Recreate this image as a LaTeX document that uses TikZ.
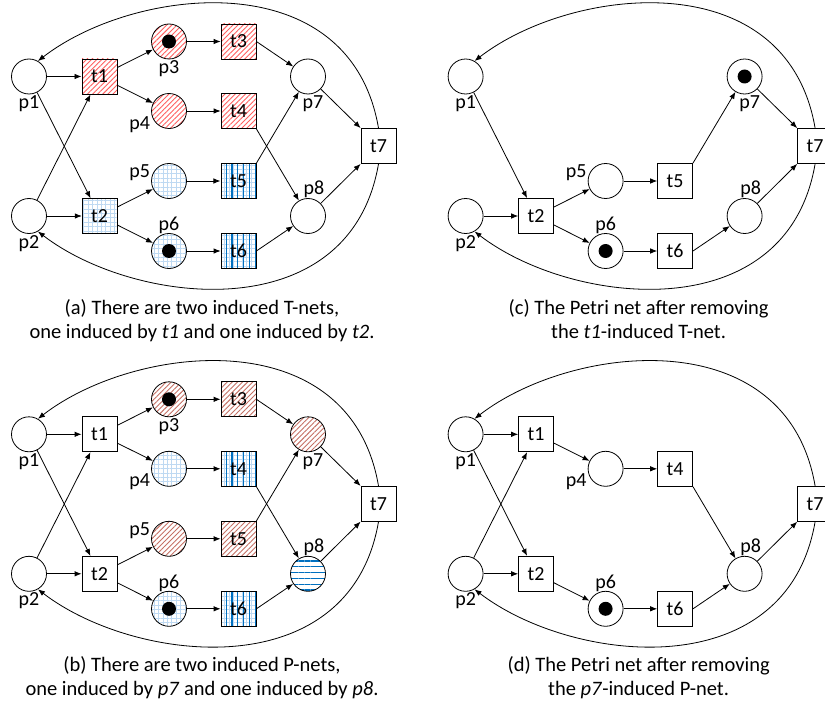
\documentclass[tikz,border=0pt]{standalone}
\usepackage{fontspec}
\setmainfont{Carlito}
\usepackage{tikz}
\usetikzlibrary{arrows.meta}
\usetikzlibrary{positioning}
\usetikzlibrary{patterns.meta}
\definecolor{hatchred}{RGB}{255,95,95}
\definecolor{hatchbrown}{RGB}{196,112,100}
\definecolor{gridblue}{RGB}{190,217,242}
\definecolor{lineblue}{RGB}{0,112,192}
\tikzset{>={Latex[length=7pt,width=5.5pt]}}
\tikzset{
  place/.style={circle, draw, line width=0.8pt, minimum size=35pt, inner sep=0pt},
  trans/.style={rectangle, draw, line width=0.8pt, minimum size=35pt, inner sep=0pt, font=\fontsize{20}{23}\selectfont},
  token/.style={circle, fill=black, minimum size=14pt, inner sep=0pt},
  lbl/.style={inner sep=0pt, font=\fontsize{20}{23}\selectfont},
  captext/.style={inner sep=0pt, align=center, anchor=north, font=\fontsize{20.5}{24}\selectfont},
  flow/.style={->, line width=0.8pt},
  redhatch/.style={pattern={Lines[angle=45,distance=3.6pt,line width=0.9pt]}, pattern color=hatchred},
  brownhatch/.style={pattern={Lines[angle=45,distance=3.6pt,line width=0.9pt]}, pattern color=hatchbrown},
  bluegrid/.style={pattern={Hatch[distance=4.4pt,line width=0.35pt]}, pattern color=gridblue},
  bluevert/.style={preaction={bluegrid}, pattern={Lines[angle=90,distance=5.8pt,line width=1.1pt]}, pattern color=lineblue},
  bluehoriz/.style={pattern={Lines[angle=0,distance=5.8pt,line width=1.1pt]}, pattern color=lineblue}
}

\begin{document}
\begin{tikzpicture}[x=1pt, y=-1pt]
  \useasboundingbox (0,0) rectangle (825,706);

  % (a)
  \begin{scope}[name prefix=a-]
    \node[place] (p1) at (29,76.5) {};
    \node[place] (p2) at (29,216) {};
    \node[trans, redhatch] (t1) at (99.5,76.5) {t1};
    \node[trans, bluegrid] (t2) at (99.5,216) {t2};
    \node[place, redhatch] (p3) at (169,41.5) {};
    \node[place, redhatch] (p4) at (169,111) {};
    \node[place, bluegrid] (p5) at (169,181) {};
    \node[place, bluegrid] (p6) at (169,251) {};
    \node[trans, redhatch] (t3) at (238.5,41.5) {t3};
    \node[trans, redhatch] (t4) at (238.5,111) {t4};
    \node[trans, bluevert] (t5) at (238.5,181) {t5};
    \node[trans, bluevert] (t6) at (238.5,251) {t6};
    \node[place] (p7) at (308,76.5) {};
    \node[place] (p8) at (308,216) {};
    \node[trans] (t7) at (378.5,146) {t7};
    \node[token] (k3) at (p3) {};
    \node[token] (k6) at (p6) {};
    \node[lbl, below=1pt of p1] (l1) {p1};
    \node[lbl, below=1pt of p2] (l2) {p2};
    \node[lbl, below=1pt of p3] (l3) {p3};
    \node[lbl, anchor=north east] (l4) at ([shift={(-1,5)}]p4.west) {p4};
    \node[lbl, anchor=south east] (l5) at ([shift={(-1,0)}]p5.west) {p5};
    \node[lbl, above=-1pt of p6] (l6) {p6};
    \node[lbl, below=1pt of p7, xshift=5pt] (l7) {p7};
    \node[lbl, above=0pt of p8, xshift=6pt] (l8) {p8};
    \draw[flow] (p1) -- (t1);
    \draw[flow] (p1) -- (t2);
    \draw[flow] (p2) -- (t1);
    \draw[flow] (p2) -- (t2);
    \draw[flow] (t1) -- (p3);
    \draw[flow] (t1) -- (p4);
    \draw[flow] (t2) -- (p5);
    \draw[flow] (t2) -- (p6);
    \draw[flow] (p3) -- (t3);
    \draw[flow] (p4) -- (t4);
    \draw[flow] (p5) -- (t5);
    \draw[flow] (p6) -- (t6);
    \draw[flow] (t3.east) -- (p7);
    \draw[flow] (t4.south east) -- (p8);
    \draw[flow] (t5.north east) -- (p7);
    \draw[flow] (t6.east) -- (p8);
    \draw[flow] (p7) -- (t7.north west);
    \draw[flow] (p8) -- (t7.south west);
    \draw[flow] (t7.north) .. controls (350,-38) and (135,-14) .. (p1.60);
    \draw[flow] (t7.south) .. controls (350,330) and (135,306) .. (p2.-60);
    \node[captext] (cap) at (202,299) {(a) There are two induced T-nets,\\one induced by \textit{t1} and one induced by \textit{t2}.};
  \end{scope}

  % (c)
  \begin{scope}[shift={(436.6,0)}, name prefix=c-]
    \node[place] (p1) at (29,76.5) {};
    \node[place] (p2) at (29,216) {};
    \node[trans] (t2) at (99.5,216) {t2};
    \node[place] (p5) at (169,181) {};
    \node[place] (p6) at (169,251) {};
    \node[trans] (t5) at (238.5,181) {t5};
    \node[trans] (t6) at (238.5,251) {t6};
    \node[place] (p7) at (308,76.5) {};
    \node[place] (p8) at (308,216) {};
    \node[trans] (t7) at (378.5,146) {t7};
    \node[token] (k6) at (p6) {};
    \node[token] (k7) at (p7) {};
    \node[lbl, below=1pt of p1] (l1) {p1};
    \node[lbl, below=1pt of p2] (l2) {p2};
    \node[lbl, anchor=south east] (l5) at ([shift={(-1,0)}]p5.west) {p5};
    \node[lbl, above=-1pt of p6] (l6) {p6};
    \node[lbl, below=1pt of p7, xshift=5pt] (l7) {p7};
    \node[lbl, above=0pt of p8, xshift=6pt] (l8) {p8};
    \draw[flow] (p1) -- (t2);
    \draw[flow] (p2) -- (t2);
    \draw[flow] (t2) -- (p5);
    \draw[flow] (t2) -- (p6);
    \draw[flow] (p5) -- (t5);
    \draw[flow] (p6) -- (t6);
    \draw[flow] (t5.north east) -- (p7);
    \draw[flow] (t6.east) -- (p8);
    \draw[flow] (p7) -- (t7.north west);
    \draw[flow] (p8) -- (t7.south west);
    \draw[flow] (t7.north) .. controls (350,-38) and (135,-14) .. (p1.60);
    \draw[flow] (t7.south) .. controls (350,330) and (135,306) .. (p2.-60);
    \node[captext] (cap) at (202,299) {(c) The Petri net after removing\\the \textit{t1}-induced T-net.};
  \end{scope}

  % (b)
  \begin{scope}[shift={(0,357.8)}, name prefix=b-]
    \node[place] (p1) at (29,76.5) {};
    \node[place] (p2) at (29,216) {};
    \node[trans] (t1) at (99.5,76.5) {t1};
    \node[trans] (t2) at (99.5,216) {t2};
    \node[place, brownhatch] (p3) at (169,41.5) {};
    \node[place, bluegrid] (p4) at (169,111) {};
    \node[place, brownhatch] (p5) at (169,181) {};
    \node[place, bluegrid] (p6) at (169,251) {};
    \node[trans, brownhatch] (t3) at (238.5,41.5) {t3};
    \node[trans, bluevert] (t4) at (238.5,111) {t4};
    \node[trans, brownhatch] (t5) at (238.5,181) {t5};
    \node[trans, bluevert] (t6) at (238.5,251) {t6};
    \node[place, brownhatch] (p7) at (308,76.5) {};
    \node[place, bluehoriz] (p8) at (308,216) {};
    \node[trans] (t7) at (378.5,146) {t7};
    \node[token] (k3) at (p3) {};
    \node[token] (k6) at (p6) {};
    \node[lbl, below=1pt of p1] (l1) {p1};
    \node[lbl, below=1pt of p2] (l2) {p2};
    \node[lbl, below=1pt of p3] (l3) {p3};
    \node[lbl, anchor=north east] (l4) at ([shift={(-1,5)}]p4.west) {p4};
    \node[lbl, anchor=south east] (l5) at ([shift={(-1,0)}]p5.west) {p5};
    \node[lbl, above=-1pt of p6] (l6) {p6};
    \node[lbl, below=1pt of p7, xshift=5pt] (l7) {p7};
    \node[lbl, above=0pt of p8, xshift=6pt] (l8) {p8};
    \draw[flow] (p1) -- (t1);
    \draw[flow] (p1) -- (t2);
    \draw[flow] (p2) -- (t1);
    \draw[flow] (p2) -- (t2);
    \draw[flow] (t1) -- (p3);
    \draw[flow] (t1) -- (p4);
    \draw[flow] (t2) -- (p5);
    \draw[flow] (t2) -- (p6);
    \draw[flow] (p3) -- (t3);
    \draw[flow] (p4) -- (t4);
    \draw[flow] (p5) -- (t5);
    \draw[flow] (p6) -- (t6);
    \draw[flow] (t3.east) -- (p7);
    \draw[flow] (t4.south east) -- (p8);
    \draw[flow] (t5.north east) -- (p7);
    \draw[flow] (t6.east) -- (p8);
    \draw[flow] (p7) -- (t7.north west);
    \draw[flow] (p8) -- (t7.south west);
    \draw[flow] (t7.north) .. controls (350,-38) and (135,-14) .. (p1.60);
    \draw[flow] (t7.south) .. controls (350,330) and (135,306) .. (p2.-60);
    \node[captext] (cap) at (202,299) {(b) There are two induced P-nets,\\one induced by \textit{p7} and one induced by \textit{p8}.};
  \end{scope}

  % (d)
  \begin{scope}[shift={(436.6,357.8)}, name prefix=d-]
    \node[place] (p1) at (29,76.5) {};
    \node[place] (p2) at (29,216) {};
    \node[trans] (t1) at (99.5,76.5) {t1};
    \node[trans] (t2) at (99.5,216) {t2};
    \node[place] (p4) at (169,111) {};
    \node[place] (p6) at (169,251) {};
    \node[trans] (t4) at (238.5,111) {t4};
    \node[trans] (t6) at (238.5,251) {t6};
    \node[place] (p8) at (308,216) {};
    \node[trans] (t7) at (378.5,146) {t7};
    \node[token] (k6) at (p6) {};
    \node[lbl, below=1pt of p1] (l1) {p1};
    \node[lbl, below=1pt of p2] (l2) {p2};
    \node[lbl, anchor=north east] (l4) at ([shift={(-1,5)}]p4.west) {p4};
    \node[lbl, above=-1pt of p6] (l6) {p6};
    \node[lbl, above=0pt of p8, xshift=6pt] (l8) {p8};
    \draw[flow] (p1) -- (t1);
    \draw[flow] (p1) -- (t2);
    \draw[flow] (p2) -- (t1);
    \draw[flow] (p2) -- (t2);
    \draw[flow] (t1) -- (p4);
    \draw[flow] (t2) -- (p6);
    \draw[flow] (p4) -- (t4);
    \draw[flow] (p6) -- (t6);
    \draw[flow] (t4.south east) -- (p8);
    \draw[flow] (t6.east) -- (p8);
    \draw[flow] (p8) -- (t7.south west);
    \draw[flow] (t7.north) .. controls (350,-38) and (135,-14) .. (p1.60);
    \draw[flow] (t7.south) .. controls (350,330) and (135,306) .. (p2.-60);
    \node[captext] (cap) at (202,299) {(d) The Petri net after removing\\the \textit{p7}-induced P-net.};
  \end{scope}
\end{tikzpicture}
\end{document}
